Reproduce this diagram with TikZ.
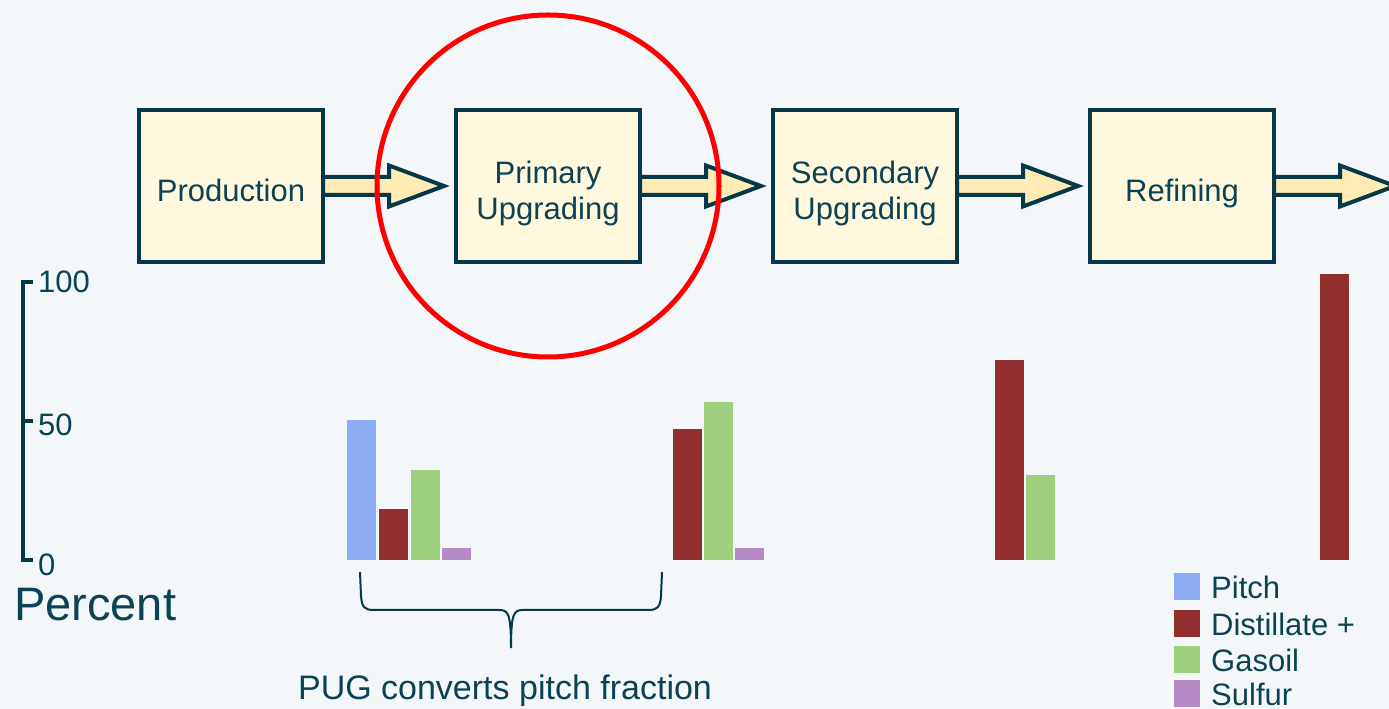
\documentclass[tikz,border=0pt]{standalone}
\usepackage{fontspec}
\setmainfont{Liberation Sans}
\usetikzlibrary{positioning,calc}
\definecolor{bgfill}{HTML}{F3F7F9}
\definecolor{boxfill}{HTML}{FFF8DC}
\definecolor{boxline}{HTML}{06384A}
\definecolor{arrowfill}{HTML}{FFEBB3}
\definecolor{inktext}{HTML}{0B4354}
\definecolor{ringred}{HTML}{FF0000}
\definecolor{pitchc}{HTML}{8CADF3}
\definecolor{distc}{HTML}{922E2E}
\definecolor{gasc}{HTML}{9CCF7E}
\definecolor{sulfc}{HTML}{B68AC7}
\tikzstyle{stagebox}=[rectangle, draw=boxline, fill=boxfill, line width=4pt, minimum width=184pt, minimum height=152pt, inner sep=0pt, outer sep=0pt, align=center, text=inktext, text depth=0pt, font=\fontsize{31}{36}\selectfont]
\tikzstyle{oneline}=[text height=32pt]
\tikzstyle{twoline}=[text height=68pt]
\tikzstyle{flowarrow}=[draw=boxline, fill=arrowfill, line width=4pt, line join=miter]
\tikzstyle{ring}=[draw=ringred, line width=5pt]
\tikzstyle{axisline}=[draw=boxline, line width=4pt]
\tikzstyle{bracepath}=[draw=boxline, line width=2pt]
\tikzstyle{ticklabel}=[anchor=west, inner sep=0pt, text=inktext, font=\fontsize{31}{36}\selectfont]
\tikzstyle{notetext}=[inner sep=0pt, text=inktext, font=\fontsize{31}{36}\selectfont]
% fat flow arrow from one stage box to the next
\newcommand{\flowarrow}[2]{%
  \draw[flowarrow] ($(#1)+(0,9)$) -- ($(#2)+(-67,9)$) -- ($(#2)+(-67,20.5)$) -- ($(#2)+(-12,0)$)
    -- ($(#2)+(-67,-20.5)$) -- ($(#2)+(-67,-9)$) -- ($(#1)+(0,-9)$) -- cycle;}

\begin{document}
\begin{tikzpicture}[x=1pt,y=1pt]
\useasboundingbox (0,0) rectangle (1389,709);
\fill[bgfill] (0,0) rectangle (1389,709);
%Nodes
\node[stagebox,oneline]   (prod)    at (231,523)           {Production};
\node[stagebox,twoline]   (pug)     [right=133pt of prod]  {Primary\\Upgrading};
\node[stagebox,twoline]   (sug)     [right=133pt of pug]   {Secondary\\Upgrading};
\node[stagebox,oneline]   (ref)     [right=133pt of sug]   {Refining};
\coordinate               (exit)    at ($(ref.east)+(133,0)$);
%Lines
\flowarrow{prod.east}{pug.west}
\flowarrow{pug.east}{sug.west}
\flowarrow{sug.east}{ref.west}
\flowarrow{ref.east}{exit}
\draw[ring] (pug) circle[radius=171];
%Chart
\begin{scope}[shift={(0,149)}, yscale=2.78]
\draw[axisline] (33,100) -- (23,100) -- (23,0) -- (33,0);
\draw[axisline] (23,50) -- (33,50);
\node[ticklabel]    (t100)    at (38,100)   {100};
\node[ticklabel]    (t50)     at (38,48.5)  {50};
\node[ticklabel]    (t0)      at (38,-1.6)  {0};
\foreach \x/\h/\c in {347/50.4/pitchc, 379/18.3/distc, 411/32.4/gasc, 442/4.3/sulfc,
                      673/47.1/distc, 704/56.8/gasc, 735/4.3/sulfc,
                      995/71.9/distc, 1026/30.6/gasc,
                      1320/102.9/distc}
  \fill[\c] (\x,0) rectangle ++(29,\h);
\end{scope}
\node[notetext, anchor=base west, font=\fontsize{47}{56}\selectfont] (plabel) at (14,88) {Percent};
%Brace
\draw[bracepath] (360,137) -- (361,113) .. controls (362,102) and (364,99) .. (374,99) -- (499,99)
  .. controls (508,99) and (511,96) .. (511,61)
  .. controls (511,96) and (514,99) .. (523,99) -- (648,99)
  .. controls (658,99) and (660,102) .. (661,113) -- (662,137);
\node[notetext, anchor=base, font=\fontsize{34}{40}\selectfont] (pugnote) at (505,9) {PUG converts pitch fraction};
%Legend
\foreach \y/\c/\t in {110/pitchc/Pitch, 73/distc/Distillate +, 37/gasc/Gasoil, 3/sulfc/Sulfur}{
  \fill[\c] (1174,\y-1) rectangle ++(26,27);
  \node[notetext, anchor=base west] at (1211,\y) {\t};
}
\end{tikzpicture}
\end{document}
